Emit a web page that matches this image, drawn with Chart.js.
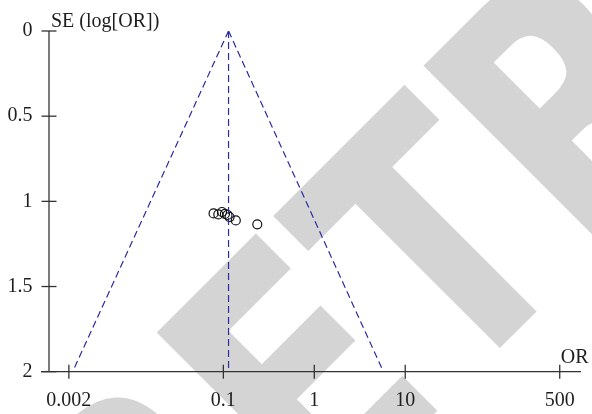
<!DOCTYPE html>
<html>
<head>
<meta charset="utf-8">
<script src="https://cdn.jsdelivr.net/npm/chart.js@4.4.1/dist/chart.umd.min.js"></script>
<style>
  html, body { margin: 0; padding: 0; background: #fff; }
  #wrap { width: 592px; height: 414px; position: relative; }
</style>
</head>
<body>
<div id="wrap"><canvas id="c" width="592" height="414"></canvas></div>
<script>
// ---- data ----
const studyOR = [0.078, 0.088, 0.0966, 0.104, 0.111, 0.117, 0.137, 0.236];
const studySE = [1.071, 1.077, 1.0625, 1.074, 1.080, 1.092, 1.112, 1.135];
const pooledOR = 0.114;
const funnelSE = [0, 2];
const funnelLeftOR = [0.114, 0.0022];
const funnelRightOR = [0.114, 5.75];
const xTickValues = [0.002, 0.1, 1, 10, 500];
const xTickLabels = ['0.002', '0.1', '1', '10', '500'];
const yTickValues = [0, 0.5, 1, 1.5, 2];
const yTickLabels = ['0', '0.5', '1', '1.5', '2'];
const yTitle = 'SE (log[OR])';
const xTitle = 'OR';
const watermark = 'RETRACTED';

const SERIF = '"Liberation Serif", "DejaVu Serif", serif';
const TEXT = '#1e1e1e';
const AXIS = '#333';
const FUNNEL = '#2a2aa6';

const points = studyOR.map((v, i) => ({ x: v, y: studySE[i] }));
const leftLine = funnelSE.map((s, i) => ({ x: funnelLeftOR[i], y: s }));
const rightLine = funnelSE.map((s, i) => ({ x: funnelRightOR[i], y: s }));
const centerLine = funnelSE.map(s => ({ x: pooledOR, y: s }));

const bgPlugin = {
  id: 'bgWatermark',
  beforeDraw(chart) {
    const ctx = chart.ctx;
    ctx.save();
    ctx.fillStyle = '#fff';
    ctx.fillRect(0, 0, chart.width, chart.height);
    ctx.font = 'bold 100px "DejaVu Sans", sans-serif';
    const mE = ctx.measureText('E');
    const capH = mE.actualBoundingBoxAscent;
    const eW = mE.actualBoundingBoxLeft + mE.actualBoundingBoxRight;
    const sy = 254 / capH;
    const sx = 143.7 / eW;
    const rW = ctx.measureText('R').width;
    const eLsb = -mE.actualBoundingBoxLeft;
    const uE = -176.6 / Math.SQRT2;
    const uStart = uE - (rW + eLsb) * sx;
    const base = 848;
    const ox = (base + uStart * Math.SQRT2) / 2;
    const oy = (base - uStart * Math.SQRT2) / 2;
    ctx.translate(ox, oy);
    ctx.rotate(-Math.PI / 4);
    ctx.scale(sx, sy);
    ctx.fillStyle = '#d4d4d4';
    ctx.textBaseline = 'alphabetic';
    ctx.fillText(watermark, 0, 0);
    ctx.restore();
  }
};

const axesPlugin = {
  id: 'customAxes',
  afterDraw(chart) {
    const ctx = chart.ctx;
    const xs = chart.scales.x, ys = chart.scales.y;
    const ca = chart.chartArea;
    const yAxisX = ca.left + 7.5;
    ctx.save();
    ctx.strokeStyle = AXIS;
    ctx.lineWidth = 1.3;
    // y axis line
    ctx.beginPath();
    ctx.moveTo(yAxisX, ys.getPixelForValue(0));
    ctx.lineTo(yAxisX, ys.getPixelForValue(2));
    ctx.stroke();
    // y ticks (crossing)
    yTickValues.forEach(v => {
      const py = ys.getPixelForValue(v);
      ctx.beginPath();
      ctx.moveTo(yAxisX - 7.5, py);
      ctx.lineTo(yAxisX + 7.5, py);
      ctx.stroke();
    });
    // x ticks (crossing)
    const axY = ca.bottom;
    xTickValues.forEach(v => {
      const px = xs.getPixelForValue(v);
      ctx.beginPath();
      ctx.moveTo(px, axY - 7);
      ctx.lineTo(px, axY + 7);
      ctx.stroke();
    });
    // titles
    ctx.fillStyle = TEXT;
    ctx.font = '20px ' + SERIF;
    ctx.textBaseline = 'alphabetic';
    ctx.textAlign = 'left';
    ctx.fillText(yTitle, yAxisX + 2, ys.getPixelForValue(0) - 4);
    ctx.fillText(xTitle, xs.getPixelForValue(500) + 1, axY - 8.5);
    ctx.restore();
  }
};

const lineDs = (data) => ({
  type: 'line',
  data,
  borderColor: FUNNEL,
  borderWidth: 1.2,
  borderDash: [7, 4],
  pointRadius: 0,
  fill: false,
  tension: 0
});

new Chart(document.getElementById('c'), {
  type: 'scatter',
  data: {
    datasets: [
      lineDs(leftLine),
      lineDs(rightLine),
      lineDs(centerLine),
      {
        type: 'scatter',
        data: points,
        pointStyle: 'circle',
        pointRadius: 4.5,
        pointBorderWidth: 1.2,
        borderColor: '#111',
        backgroundColor: 'rgba(0,0,0,0)',
        pointBackgroundColor: 'rgba(0,0,0,0)'
      }
    ]
  },
  options: {
    responsive: false,
    animation: false,
    devicePixelRatio: 1,
    layout: { padding: { top: 31, right: 7, left: 0, bottom: 0 } },
    plugins: { legend: { display: false }, tooltip: { enabled: false } },
    scales: {
      x: {
        type: 'logarithmic',
        min: 0.001,
        max: 850,
        afterBuildTicks: s => { s.ticks = xTickValues.map(v => ({ value: v })); },
        afterFit: s => { s.height = 42.3; },
        ticks: {
          autoSkip: false,
          maxRotation: 0,
          padding: 17,
          color: TEXT,
          font: { family: SERIF, size: 20 },
          callback: (v, i) => xTickLabels[i]
        },
        grid: { display: true, drawOnChartArea: false, drawTicks: false },
        border: { display: true, color: AXIS, width: 1.3 }
      },
      y: {
        type: 'linear',
        reverse: true,
        min: 0,
        max: 2,
        afterBuildTicks: s => { s.ticks = yTickValues.map(v => ({ value: v })); },
        afterFit: s => { s.width = 41.5; },
        ticks: {
          autoSkip: false,
          padding: 9,
          color: TEXT,
          font: { family: SERIF, size: 20 },
          callback: (v, i) => yTickLabels[i]
        },
        grid: { display: false, drawTicks: false },
        border: { display: false }
      }
    }
  },
  plugins: [bgPlugin, axesPlugin]
});
</script>
</body>
</html>
